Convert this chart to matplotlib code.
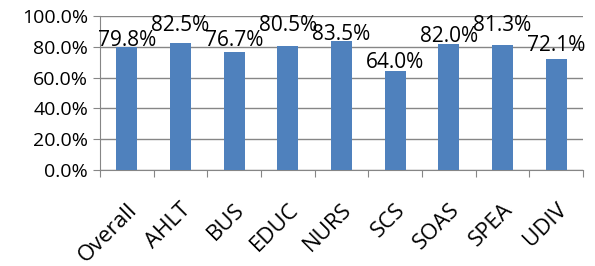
import matplotlib.pyplot as plt
from matplotlib.ticker import PercentFormatter

categories = ["Overall", "AHLT", "BUS", "EDUC", "NURS", "SCS", "SOAS", "SPEA", "UDIV"]
values = [79.8, 82.5, 76.7, 80.5, 83.5, 64.0, 82.0, 81.3, 72.1]

# label lift above each bar (pixels), like Excel's overlap avoidance
label_lift = [0, 11, 4, 14, 0, 2, 0, 12, 7]


def main():
    plt.rcParams['font.family'] = ['Open Sans', 'DejaVu Sans']
    fig = plt.figure(figsize=(5.95, 2.66), dpi=100)
    ax = fig.add_axes([0.168, 0.361, 0.812, 0.579])

    x = range(len(categories))
    bars = ax.bar(x, values, width=0.39, color="#4F81BD", zorder=3)
    for bar, v, lift in zip(bars, values, label_lift):
        ax.annotate("%.1f%%" % v, (bar.get_x() + bar.get_width() / 2, v),
                    xytext=(0, lift * 0.72 + 1), textcoords="offset points",
                    ha="center", va="baseline", fontsize=15,
                    annotation_clip=False)

    ax.set_xlim(-0.5, len(categories) - 0.5)
    ax.set_ylim(0, 100)
    ax.set_yticks(range(0, 101, 20))
    ax.yaxis.set_major_formatter(PercentFormatter(decimals=1))
    ax.grid(axis="y", color="#868686", linewidth=1, zorder=0)

    ax.set_xticks([i - 0.5 for i in range(len(categories) + 1)])
    ax.set_xticklabels([])
    ax.set_xticks(list(x), minor=True)
    ax.set_xticklabels(categories, minor=True, rotation=45, ha="right",
                       rotation_mode="anchor", fontsize=16)
    ax.tick_params(axis="x", which="minor", length=0, pad=21)
    ax.tick_params(axis="x", which="major", length=5, color="#868686")
    ax.tick_params(axis="y", length=5, color="#868686", labelsize=14)

    for s in ["top", "right"]:
        ax.spines[s].set_visible(False)
    for s in ["left", "bottom"]:
        ax.spines[s].set_color("#868686")

    fig.savefig("out.png")


if __name__ == "__main__":
    main()
